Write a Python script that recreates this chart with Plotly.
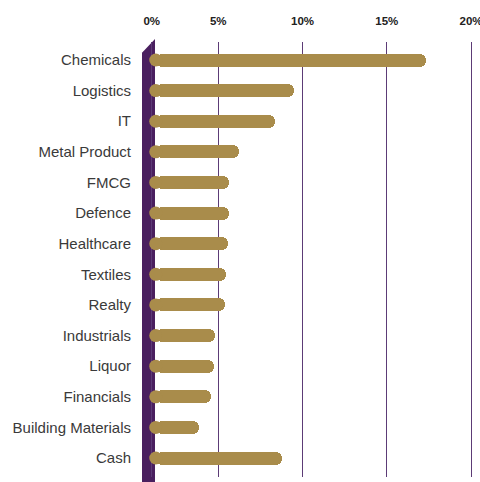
import plotly.graph_objects as go

# Data (percent allocation)
categories = ["Chemicals", "Logistics", "IT", "Metal Product", "FMCG", "Defence",
              "Healthcare", "Textiles", "Realty", "Industrials", "Liquor",
              "Financials", "Building Materials", "Cash"]
values = [17.3, 9.5, 8.37, 6.23, 5.62, 5.64, 5.56, 5.46, 5.38, 4.8, 4.73, 4.57, 3.84, 8.78]
tick_vals = [1.05, 5, 10, 15, 20]
tick_text = ["0%", "5%", "10%", "15%", "20%"]

GOLD = "#A98C4B"
PURPLE = "#4A1F5F"
GRID = "#5C3B76"

W, H = 480, 482
ML, MR, MT, MB = 134, 0, 42, 5
plot_w = W - ML - MR
plot_h = H - MT - MB
px_per_unit = 16.85
x_max = plot_w / px_per_unit

bar_base = 1.29  # start of bars, just right of the purple baseline band
bar_len = [v - bar_base for v in values]

fig = go.Figure()
fig.add_trace(go.Bar(
    y=categories, x=bar_len, base=bar_base, orientation="h",
    width=0.425, marker=dict(color=GOLD, cornerradius="50%", line=dict(width=0)),
    hoverinfo="skip", showlegend=False,
))
fig.add_trace(go.Scatter(
    y=categories, x=[bar_base] * len(categories), mode="markers",
    marker=dict(color=GOLD, size=13, line=dict(width=0)),
    hoverinfo="skip", showlegend=False,
))

# purple baseline band (decorative), paper coordinates
def px_x(p):
    return (p - ML) / plot_w

def px_y(p):
    return (H - MB - p) / plot_h

path = "M {} {} L {} {} L {} {} L {} {} Z".format(
    px_x(142), px_y(52.7), px_x(155), px_y(39), px_x(155), px_y(482), px_x(142), px_y(482))
fig.add_shape(type="path", path=path, xref="paper", yref="paper",
              fillcolor=PURPLE, line=dict(width=0), layer="between")

fig.update_layout(
    width=W, height=H,
    margin=dict(l=ML, r=MR, t=MT, b=MB, pad=0),
    paper_bgcolor="white", plot_bgcolor="white",
    bargap=0,
    font=dict(family="Liberation Sans, Arial, sans-serif"),
)
fig.update_xaxes(
    side="top", range=[0, x_max], tickvals=tick_vals, ticktext=tick_text,
    showgrid=True, gridcolor=GRID, gridwidth=1.2, zeroline=False, showline=False,
    ticks="", ticklabelstandoff=14, ticklabeloverflow="allow", automargin=False,
    tickfont=dict(family="Liberation Sans, Arial, sans-serif", size=11.5, color="#222222",
                  weight="bold"),
)
fig.update_yaxes(
    type="category", categoryorder="array", categoryarray=categories,
    range=[13.62, -0.588], showgrid=False, zeroline=False, showline=False,
    ticks="", ticklabelstandoff=2, automargin=False,
    tickfont=dict(family="Liberation Sans, Arial, sans-serif", size=15, color="#3a3a3a"),
)

fig.write_html("out.html")
